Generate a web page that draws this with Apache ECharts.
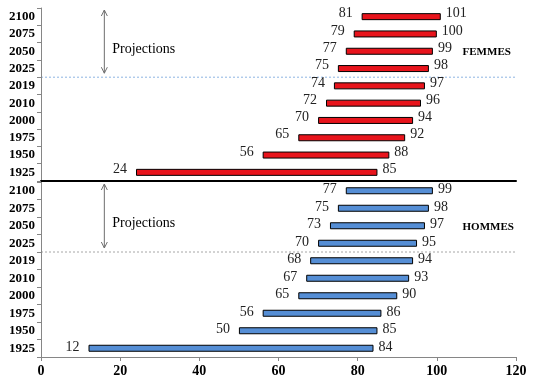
<!DOCTYPE html>
<html>
<head>
<meta charset="utf-8">
<script src="https://cdn.jsdelivr.net/npm/echarts@6/dist/echarts.min.js"></script>
<style>html,body{margin:0;padding:0;background:#fff}#c{width:537px;height:384px}</style>
</head>
<body>
<div id="c"></div>
<script>
var years = ['1925','1950','1975','2000','2010','2019','2025','2050','2075','2100'];
var femmesMin = [24,56,65,70,72,74,75,77,79,81];
var femmesMax = [85,88,92,94,96,97,98,99,100,101];
var hommesMin = [12,50,56,65,67,68,70,73,75,77];
var hommesMax = [84,85,86,90,93,94,95,97,98,99];
var xTicks = [0,20,40,60,80,100,120];

var SERIF = "'Liberation Serif','Times New Roman',serif";
var RED = '#e8141c', BLUE = '#558ed5';

function diff(mx, mn){ return mx.map(function(v,i){ return v - mn[i]; }); }

function baseSeries(mins, gi, stack, dy){
  return {
    type:'bar', stack: stack, xAxisIndex: gi, yAxisIndex: gi, data: mins, barWidth: 7, silent: true,
    itemStyle:{color:'transparent'},
    label:{show:true, position:'insideRight', distance:9, offset:[0,dy], formatter:'{c}',
      color:'#222', fontSize:14, fontFamily:SERIF}
  };
}
function rangeSeries(mins, maxs, gi, stack, color, dy){
  return {
    type:'bar', stack: stack, xAxisIndex: gi, yAxisIndex: gi, data: diff(maxs, mins), barWidth: 7, silent: true,
    itemStyle:{color: color, borderColor:'#000', borderWidth:1},
    label:{show:true, position:'right', distance:5, offset:[0,dy],
      formatter:function(p){ return maxs[p.dataIndex]; },
      color:'#222', fontSize:14, fontFamily:SERIF}
  };
}

function yAxisCfg(gi){
  return {
    type:'category', gridIndex: gi, data: years,
    axisLine:{show:true, lineStyle:{color:'#868686', width:1}},
    axisTick:{show:true, length:4, lineStyle:{color:'#868686'}},
    axisLabel:{color:'#000', fontWeight:'bold', fontSize:13, fontFamily:SERIF, margin:6},
    splitLine:{show:false}
  };
}

var chart = echarts.init(document.getElementById('c'), null, {renderer:'canvas'});
var option = {
  animation:false,
  grid:[
    {left:41, right:21, top:8, height:173},
    {left:41, right:21, top:182, bottom:27}
  ],
  xAxis:[
    {type:'value', gridIndex:0, min:0, max:120, interval:20,
     axisLine:{show:true, onZero:false, lineStyle:{color:'#000', width:2}},
     axisTick:{show:false}, axisLabel:{show:false}, splitLine:{show:false}},
    {type:'value', gridIndex:1, min:0, max:120, interval:20,
     axisLine:{show:true, onZero:false, lineStyle:{color:'#868686', width:1}},
     axisTick:{show:true, length:4, lineStyle:{color:'#868686'}},
     axisLabel:{color:'#000', fontWeight:'bold', fontSize:14, fontFamily:SERIF, margin:7,
       formatter:function(v){ return xTicks.indexOf(v) >= 0 ? String(v) : ''; }},
     splitLine:{show:false}}
  ],
  yAxis:[yAxisCfg(0), yAxisCfg(1)],
  series:[
    baseSeries(femmesMin, 0, 'f', -3),
    rangeSeries(femmesMin, femmesMax, 0, 'f', RED, -3),
    baseSeries(hommesMin, 1, 'h', -1),
    rangeSeries(hommesMin, hommesMax, 1, 'h', BLUE, -1)
  ]
};
chart.setOption(option);

// Annotations positioned via the axes
function annot(gi, label, dashColor){
  var yA = {yAxisIndex: gi}, xA = {xAxisIndex: gi};
  var y2019 = chart.convertToPixel(yA, '2019');
  var y2025 = chart.convertToPixel(yA, '2025');
  var y2050 = chart.convertToPixel(yA, '2050');
  var y2100 = chart.convertToPixel(yA, '2100');
  var band = Math.abs(y2019 - y2025);
  var yDash = (y2019 + y2025) / 2;
  var x0 = chart.convertToPixel(xA, 0), x1 = chart.convertToPixel(xA, 120);
  var xa = chart.convertToPixel(xA, 16);
  var yTop = y2100 - band/2 + 2, yBot = yDash - 4;
  var xt = chart.convertToPixel(xA, 18);
  var xl = chart.convertToPixel(xA, 106.5);
  var arrowStyle = {stroke:'#6e6e6e', lineWidth:1, fill:null};
  return [
    {type:'line', shape:{x1:x0, y1:yDash, x2:x1, y2:yDash}, style:{stroke:dashColor, lineWidth:1, lineDash:[2,2]}, silent:true},
    {type:'line', shape:{x1:xa, y1:yTop, x2:xa, y2:yBot}, style:arrowStyle, silent:true},
    {type:'polyline', shape:{points:[[xa-3,yTop+6],[xa,yTop],[xa+3,yTop+6]]}, style:arrowStyle, silent:true},
    {type:'polyline', shape:{points:[[xa-3,yBot-6],[xa,yBot],[xa+3,yBot-6]]}, style:arrowStyle, silent:true},
    {type:'text', x:xt, y:y2050 - 2, style:{text:'Projections', font:'14px ' + SERIF, fill:'#000', verticalAlign:'middle', align:'left'}, silent:true},
    {type:'text', x:xl, y:y2050 + 1, style:{text:label, font:'bold 11px ' + SERIF, fill:'#000', verticalAlign:'middle', align:'left'}, silent:true}
  ];
}
chart.setOption({graphic: annot(0, 'FEMMES', '#8db4e2').concat(annot(1, 'HOMMES', '#a6a6a6'))});
</script>
</body>
</html>
